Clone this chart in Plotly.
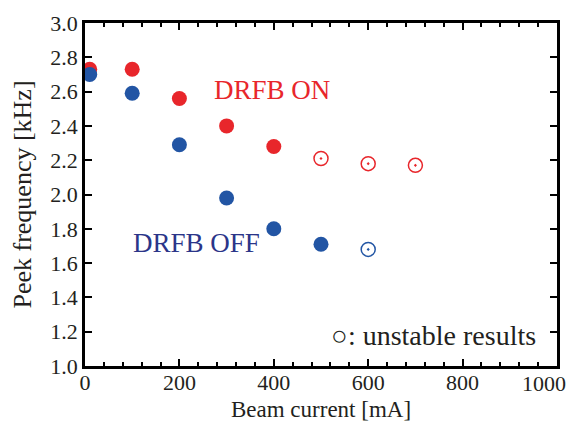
import plotly.graph_objects as go

# Data
on_x = [10, 100, 200, 300, 400]
on_y = [2.73, 2.73, 2.56, 2.40, 2.28]
on_open_x = [500, 600, 700]
on_open_y = [2.21, 2.18, 2.17]
off_x = [10, 100, 200, 300, 400, 500]
off_y = [2.70, 2.59, 2.29, 1.98, 1.80, 1.71]
off_open_x = [600]
off_open_y = [1.68]
x_tickvals = [0, 200, 400, 600, 800, 1000]
x_ticktext = ["0", "200", "400", "600", "800", "1000"]

RED = "#e8262b"
BLUE = "#2255a4"
INK = "#231f20"
FONT = "Liberation Serif"

fig = go.Figure()
fig.add_trace(go.Scatter(x=on_x, y=on_y, mode="markers", cliponaxis=False,
                         marker=dict(size=15, color=RED, line=dict(width=0))))
fig.add_trace(go.Scatter(x=off_x, y=off_y, mode="markers", cliponaxis=False,
                         marker=dict(size=15, color=BLUE, line=dict(width=0))))
fig.add_trace(go.Scatter(x=on_open_x, y=on_open_y, mode="markers",
                         marker=dict(size=14, color="rgba(0,0,0,0)", symbol="circle-dot",
                                     line=dict(width=1.5, color=RED))))
fig.add_trace(go.Scatter(x=off_open_x, y=off_open_y, mode="markers",
                         marker=dict(size=14, color="rgba(0,0,0,0)", symbol="circle-dot",
                                     line=dict(width=1.5, color=BLUE))))

fig.add_annotation(x=397, y=2.61, text="DRFB ON", showarrow=False,
                   font=dict(family=FONT, size=27, color=RED))
fig.add_annotation(x=236, y=1.72, text="DRFB OFF", showarrow=False,
                   font=dict(family=FONT, size=27, color="#2b3589"))
fig.add_annotation(x=738, y=1.18, text="○: unstable results", showarrow=False,
                   font=dict(family=FONT, size=28, color=INK))

# last x tick label is nudged left to stay inside the page (as in the reference)
fig.add_annotation(x=x_tickvals[-1], xref="x", y=0, yref="paper", yanchor="top",
                   xanchor="right", xshift=11, yshift=-3, showarrow=False,
                   text=x_ticktext[-1], font=dict(family=FONT, size=22, color=INK))
shown_ticktext = x_ticktext[:-1] + [""]

axis_common = dict(showgrid=False, zeroline=False, showline=True, linecolor="black",
                   linewidth=2.5, mirror="ticks", ticks="inside", tickcolor="black",
                   tickwidth=2, ticklen=7, automargin=False,
                   tickfont=dict(family=FONT, size=22, color=INK))

fig.update_xaxes(range=[0, 1000], tickmode="array", tickvals=x_tickvals, ticktext=shown_ticktext,
                 ticklabeloverflow="allow", ticklabelstandoff=-5,
                 title=dict(text="Beam current [mA]", font=dict(family=FONT, size=23, color=INK),
                            standoff=7),
                 minor=dict(dtick=40, tick0=0, ticks="inside", ticklen=4, tickwidth=2, tickcolor="black"),
                 **axis_common)
fig.update_yaxes(range=[1.0, 3.0], dtick=0.2, tick0=1.0, tickformat=".1f",
                 title=dict(text="Peek frequency [kHz]", font=dict(family=FONT, size=26, color=INK),
                            standoff=12),
                 **axis_common)

fig.update_layout(width=571, height=425, plot_bgcolor="white", paper_bgcolor="white",
                  showlegend=False, margin=dict(l=85, r=14, t=23, b=59))

fig.write_html("out.html", config={"displayModeBar": False},
               post_script="document.body.style.margin='0';document.body.style.overflow='hidden';")
